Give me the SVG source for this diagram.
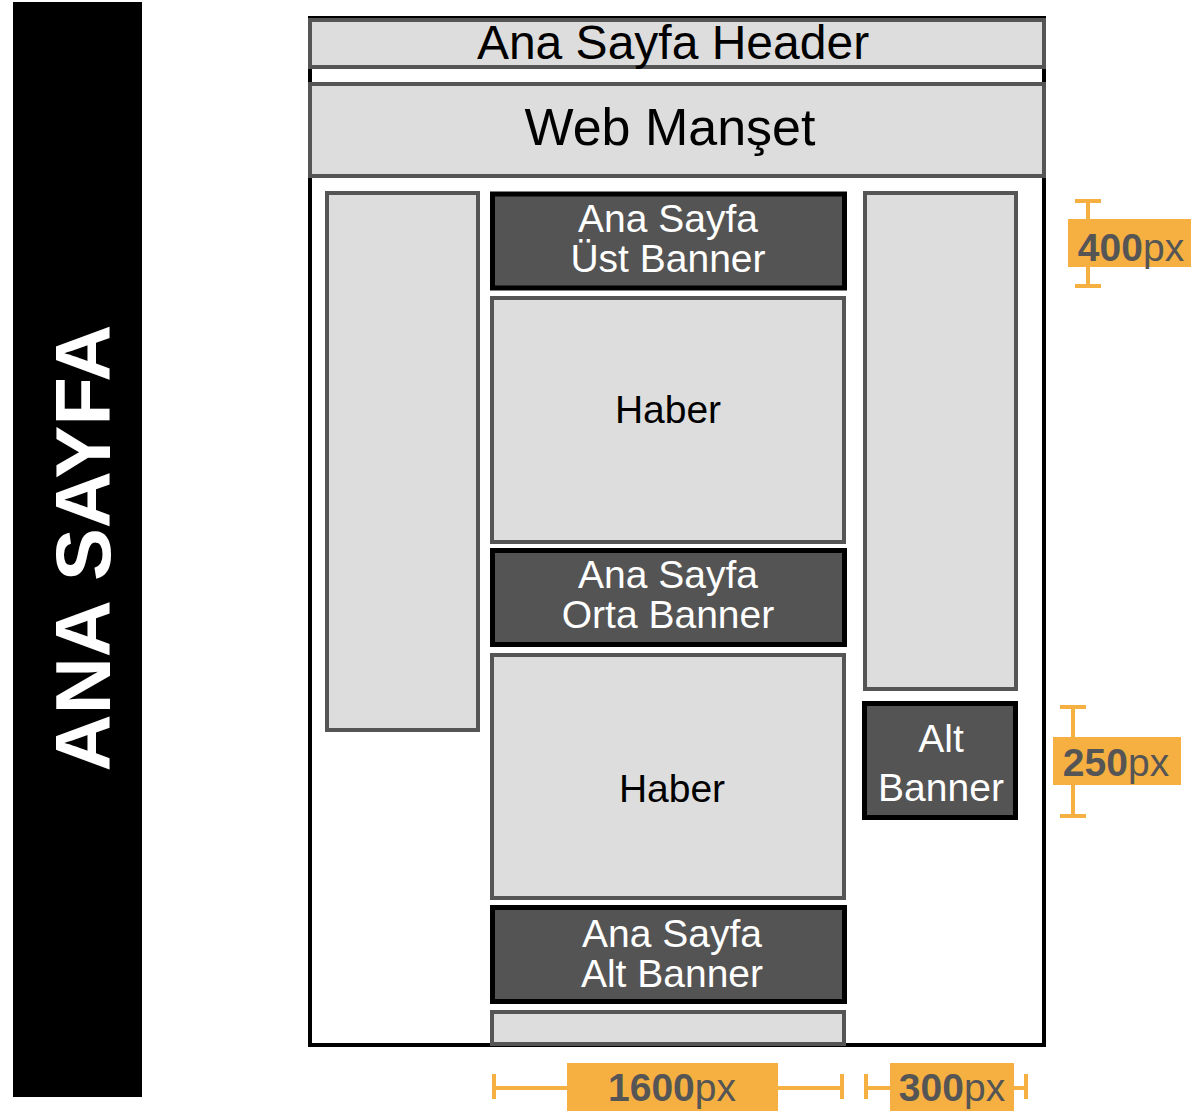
<svg xmlns="http://www.w3.org/2000/svg" width="1193" height="1116" viewBox="0 0 1193 1116">
<style>
.lt{fill:#dddddd;stroke:#555555;stroke-width:4}
.dk{fill:#545454;stroke:#000000;stroke-width:5}
.t{font-family:"Liberation Sans",Arial,Helvetica,sans-serif;text-anchor:middle}
.tb{fill:#000000;font-size:39px}
.tw{fill:#ffffff;font-size:39px}
.dim{stroke:#F6B042;stroke-width:4;fill:none}
.lab{fill:#F6B042}
.lt2{font-family:"Liberation Sans",Arial,Helvetica,sans-serif;font-size:39px;fill:#555555;text-anchor:middle}
</style>
<rect width="1193" height="1116" fill="#ffffff"/>
<g id="side-title">
<rect x="13" y="2" width="129" height="1095" fill="#000000"/>
<text class="t" transform="translate(110,548) rotate(-90)" font-size="78" font-weight="bold" fill="#ffffff" textLength="447" lengthAdjust="spacingAndGlyphs">ANA SAYFA</text>
</g>
<g id="frame">
<rect x="310" y="18" width="734" height="1027" fill="#ffffff" stroke="#000000" stroke-width="4"/>
</g>
<g id="header">
<rect class="lt" x="310" y="20" width="734" height="47"/>
<text class="t" x="673" y="59" font-size="48" fill="#000000">Ana Sayfa Header</text>
</g>
<g id="manset">
<rect class="lt" x="310" y="84" width="734" height="92"/>
<text class="t" x="670" y="145" font-size="52" fill="#000000">Web Manşet</text>
</g>
<g id="left-column">
<rect class="lt" x="327" y="193" width="151" height="537"/>
</g>
<g id="ust-banner">
<rect class="dk" x="492.5" y="194" width="352" height="94"/>
<text class="t tw" x="668" y="232">Ana Sayfa</text>
<text class="t tw" x="668" y="272">Üst Banner</text>
</g>
<g id="haber-1">
<rect class="lt" x="492" y="298" width="352" height="244"/>
<text class="t tb" x="668" y="423">Haber</text>
</g>
<g id="orta-banner">
<rect class="dk" x="492.5" y="550.5" width="352" height="94"/>
<text class="t tw" x="668" y="588">Ana Sayfa</text>
<text class="t tw" x="668" y="628">Orta Banner</text>
</g>
<g id="haber-2">
<rect class="lt" x="492" y="655" width="352" height="243"/>
<text class="t tb" x="672" y="802">Haber</text>
</g>
<g id="alt-banner-center">
<rect class="dk" x="492.5" y="907.5" width="352" height="94"/>
<text class="t tw" x="672" y="947">Ana Sayfa</text>
<text class="t tw" x="672" y="987">Alt Banner</text>
</g>
<g id="bottom-strip">
<rect class="lt" x="492" y="1012" width="352" height="32"/>
</g>
<g id="right-column">
<rect class="lt" x="865" y="193" width="151" height="496"/>
</g>
<g id="alt-banner-right">
<rect class="dk" x="864.5" y="703.5" width="151" height="114"/>
<text class="t tw" x="941" y="752">Alt</text>
<text class="t tw" x="941" y="801">Banner</text>
</g>
<g id="connectors">
<path class="dim" d="M1088 199V288M1075 201H1101M1075 286H1101"/>
<path class="dim" d="M1073 705V818M1060 707H1086M1060 816H1086"/>
<path class="dim" d="M494 1088H842M494 1074V1099M842 1074V1099"/>
<path class="dim" d="M866 1088H1026M866 1074V1099M1026 1074V1099"/>
</g>
<g id="dim-400">
<rect class="lab" x="1068" y="219" width="123" height="48"/>
<text class="lt2" x="1131" y="261"><tspan font-weight="bold">400</tspan>px</text>
</g>
<g id="dim-250">
<rect class="lab" x="1053" y="737" width="128" height="48"/>
<text class="lt2" x="1116" y="776"><tspan font-weight="bold">250</tspan>px</text>
</g>
<g id="dim-1600">
<rect class="lab" x="567" y="1063" width="211" height="48"/>
<text class="lt2" x="672" y="1101"><tspan font-weight="bold">1600</tspan>px</text>
</g>
<g id="dim-300">
<rect class="lab" x="890" y="1063" width="124" height="48"/>
<text class="lt2" x="952" y="1101"><tspan font-weight="bold">300</tspan>px</text>
</g>
</svg>
